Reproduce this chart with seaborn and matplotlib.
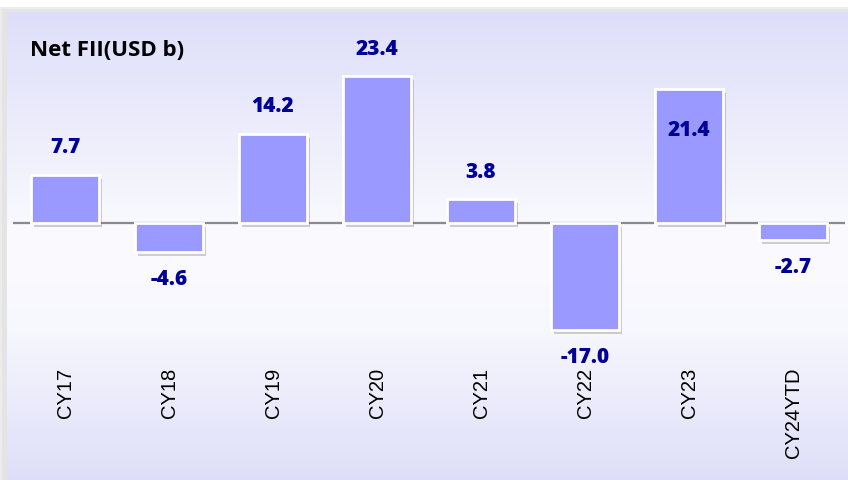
import numpy as np
import pandas as pd
import matplotlib
matplotlib.use("Agg")
import matplotlib.pyplot as plt
import matplotlib.patheffects as pe
from matplotlib.patches import Rectangle
import seaborn as sns

# ---- data ----
categories = ["CY17", "CY18", "CY19", "CY20", "CY21", "CY22", "CY23", "CY24YTD"]
values = [7.7, -4.6, 14.2, 23.4, 3.8, -17.0, 21.4, -2.7]
title = "Net FII(USD b)"
inside_label = ["CY23"]

df = pd.DataFrame({"year": categories, "fii": values})

sns.set_theme(style="white")
plt.rcParams["font.family"] = ["Liberation Sans", "DejaVu Sans"]

W, H = 848, 480
fig = plt.figure(figsize=(W / 100, H / 100), dpi=100)
fig.patch.set_facecolor("white")

# background panel with shadow and vertical gradient
bg = fig.add_axes([0, 0, 1, 1])
bg.set_xlim(0, W)
bg.set_ylim(H, 0)
bg.axis("off")
bg.add_patch(Rectangle((0, 7), W, H, facecolor="#ececec", edgecolor="none"))
bg.add_patch(Rectangle((2, 9), W, H, facecolor="#e4e4e4", edgecolor="none"))
stops_y = np.array([12, 140, 240, 330, 480])
stops_c = np.array([[222, 222, 250], [238, 238, 252], [251, 251, 255],
                    [247, 247, 254], [222, 222, 249]]) / 255.0
ys = np.arange(12, 481)
grad = np.stack([np.interp(ys, stops_y, stops_c[:, k]) for k in range(3)], axis=-1)
grad = grad[:, None, :]
bg.imshow(grad, extent=(7, W, H, 12), aspect="auto", interpolation="bilinear", zorder=1)

# main axes
ax = fig.add_axes([13 / W, 0, 832 / W, 468 / H])
ax.patch.set_alpha(0)
sns.barplot(data=df, x="year", y="fii", color="#9999FF", saturation=1,
            width=0.65, ax=ax, zorder=3)
for p in ax.patches:
    p.set_edgecolor("white")
    p.set_linewidth(2)
    p.set_path_effects([pe.SimplePatchShadow(offset=(2, -3), shadow_rgbFace="#666666", alpha=0.3),
                        pe.Normal()])

ax.set_xlim(-0.5, 7.5)
ax.set_ylim(-41.0, 33.65)
ax.axhline(0, color="#8a8a8a", lw=1.6, zorder=2)
for s in ax.spines.values():
    s.set_visible(False)
ax.set_yticks([])
ax.set_xlabel("")
ax.set_ylabel("")
ax.tick_params(axis="x", length=0, pad=-81)
ax.set_xticks(range(len(categories)))
ax.set_xticklabels(categories, rotation=90, fontsize=14.5, color="black",
                   family=["Liberation Sans", "DejaVu Sans"], va="top", ha="center")

for i, (cat, v) in enumerate(zip(categories, values)):
    if cat in inside_label:
        y = v - 6.6
    else:
        y = v + 4.3 if v >= 0 else v - 4.4
    ax.text(i, y, f"{v:.1f}", ha="center", va="center", fontsize=15,
            fontweight="heavy", color="#000099", family=["Open Sans", "DejaVu Sans"], zorder=5)

fig.text(30 / W, 1 - 50 / H, title, ha="left", va="center", fontsize=16,
         fontweight="bold", color="black", family=["Open Sans", "DejaVu Sans"])

fig.savefig("out.png", dpi=100)
